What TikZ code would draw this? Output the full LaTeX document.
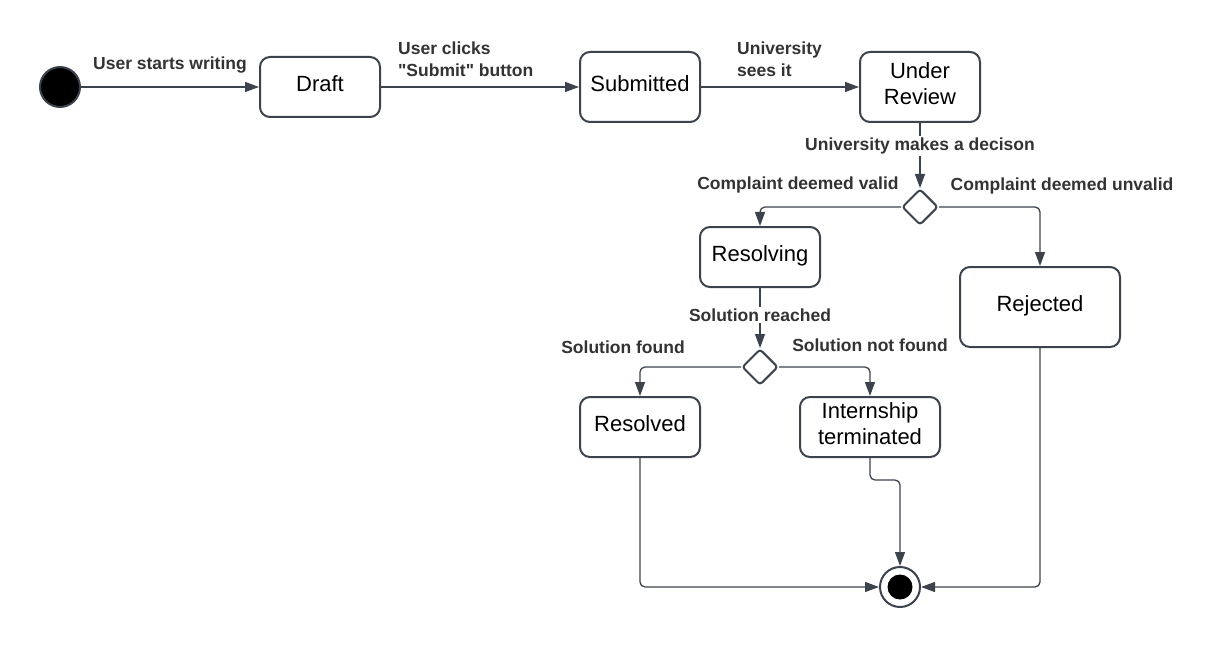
\documentclass[tikz,border=0pt]{standalone}
\usepackage{fontspec}
\setmainfont{Liberation Sans}[Ligatures=TeXOff]
\usetikzlibrary{arrows.meta}
\usetikzlibrary{shapes.geometric}

\definecolor{edgegray}{HTML}{3D434D}
\definecolor{labeltext}{HTML}{333333}

\tikzset{
  state/.style={rectangle, rounded corners=10pt, draw=edgegray, line width=2pt, fill=white,
    minimum width=120pt, minimum height=60pt, align=center, text depth=6pt,
    font=\fontsize{22}{26}\selectfont},
  choice/.style={diamond, draw=edgegray, line width=2pt, fill=white, rounded corners=3pt,
    minimum size=36pt, inner sep=0pt},
  flow/.style={draw=edgegray, line width=1.3pt, rounded corners=5pt,
    -{Triangle[length=14pt,width=10pt]}},
  guard/.style={text=labeltext, font=\bfseries\fontsize{17.5}{22}\selectfont, inner sep=2pt},
}

\begin{document}
\begin{tikzpicture}[x=1pt, y=-1pt]
\useasboundingbox (0,0) rectangle (1215,647);

\node[circle, fill=black, draw=edgegray, line width=2pt, minimum size=40pt, inner sep=0pt] (start) at (60,87) {};
\node[state] (draft) at (320,87) {Draft};
\node[state, minimum height=70pt] (submitted) at (640,87) {Submitted};
\node[state, minimum height=70pt] (review) at (920,87) {Under\\Review};
\node[choice] (decision) at (920,207) {};
\node[state] (resolving) at (760,257) {Resolving};
\node[state, minimum width=160pt, minimum height=80pt] (rejected) at (1040,307) {Rejected};
\node[choice] (solution) at (760,367) {};
\node[state] (resolved) at (640,427) {Resolved};
\node[state, minimum width=140pt] (terminated) at (870,427) {Internship\\terminated};
\node[circle, fill=white, draw=edgegray, line width=2pt, minimum size=40pt, inner sep=0pt] (finish) at (900,587) {};
\node[circle, fill=black, minimum size=25pt, inner sep=0pt] (finishdot) at (finish) {};

\draw[flow] (start) -- (draft);
\draw[flow] (draft) -- (submitted);
\draw[flow] (submitted) -- (review);
\draw[flow] (review) -- (decision);
\draw[flow] (decision.west) -| (resolving.north);
\draw[flow] (decision.east) -| (rejected.north);
\draw[flow] (resolving) -- (solution);
\draw[flow] (solution.west) -| (resolved.north);
\draw[flow] (solution.east) -| (terminated.north);
\draw[flow] (resolved.south) |- (finish.west);
\draw[flow] (rejected.south) |- (finish.east);
\draw[flow] (terminated.south) -- ++(0,22) -| (finish.north);

\node[guard] (lblwrite) at (170,65) {User starts writing};
\node[guard, anchor=west, align=left] (lblsubmit) at (396,59) {User clicks\\"Submit" button};
\node[guard, anchor=west, align=left] (lblsees) at (735,59) {University\\sees it};
\node[guard, fill=white] (lbldecide) at (920,146) {University makes a decison};
\node[guard] (lblvalid) at (798,185) {Complaint deemed valid};
\node[guard] (lblunvalid) at (1062,186) {Complaint deemed unvalid};
\node[guard, fill=white] (lblreached) at (760,315) {Solution reached};
\node[guard] (lblfound) at (623,347) {Solution found};
\node[guard] (lblnotfound) at (870,345) {Solution not found};
\end{tikzpicture}
\end{document}
